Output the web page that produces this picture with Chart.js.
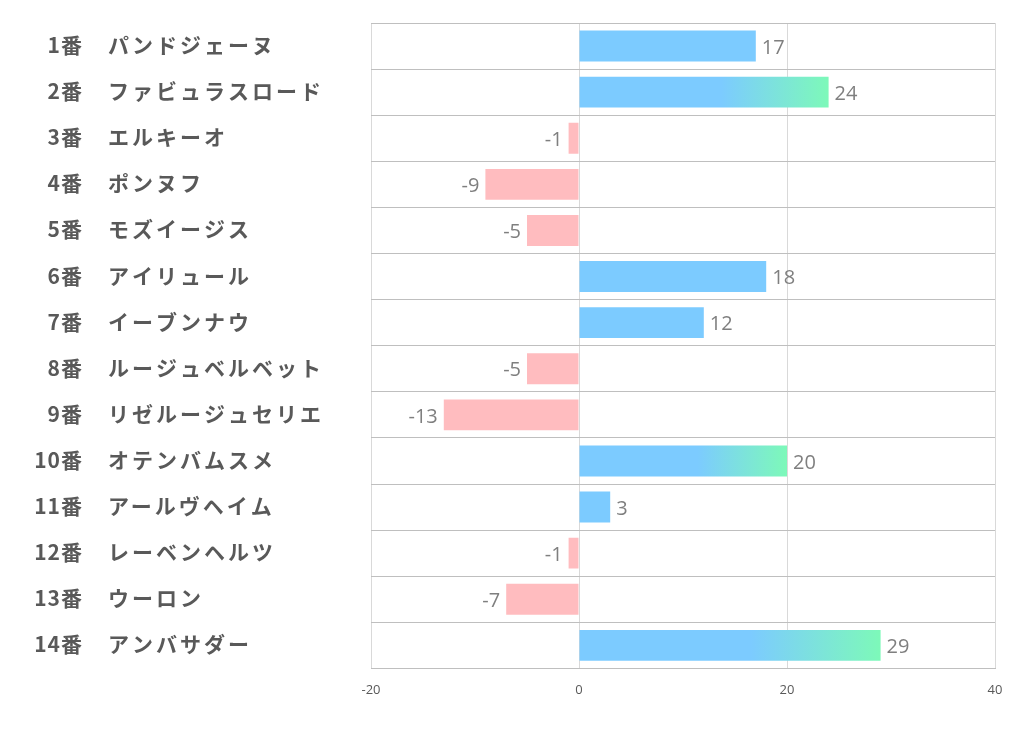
<!DOCTYPE html>
<html>
<head>
<meta charset="utf-8">
<script src="https://cdn.jsdelivr.net/npm/chart.js@4"></script>
<style>
  html, body { margin: 0; padding: 0; background: #fff; }
  #wrap { width: 1022px; height: 730px; }
</style>
</head>
<body>
<div id="wrap"><canvas id="myChart" width="1022" height="730"></canvas></div>
<script>
// data
const horseNumbers = ['1番', '2番', '3番', '4番', '5番', '6番', '7番', '8番', '9番', '10番', '11番', '12番', '13番', '14番'];
const horseNames = ['パンドジェーヌ', 'ファビュラスロード', 'エルキーオ', 'ポンヌフ', 'モズイージス', 'アイリュール', 'イーブンナウ', 'ルージュベルベット', 'リゼルージュセリエ', 'オテンバムスメ', 'アールヴヘイム', 'レーベンヘルツ', 'ウーロン', 'アンバサダー'];
const scores = [17, 24, -1, -9, -5, 18, 12, -5, -13, 20, 3, -1, -7, 29];
const xTicks = [-20, 0, 20, 40];

const BLUE = '#7ccbff';
const GREEN = '#7df9b9';
const PINK = '#ffbcbf';
const LABEL_FONT = '"Noto Sans CJK JP", "Noto Sans", sans-serif';

function barColor(ctx) {
  const v = ctx.raw;
  if (v < 0) return PINK;
  if (v < 20) return BLUE;
  const xs = ctx.chart.scales.x;
  if (!xs || !ctx.chart.chartArea) return BLUE;
  const x0 = xs.getPixelForValue(0);
  const x1 = xs.getPixelForValue(v);
  const g = ctx.chart.ctx.createLinearGradient(x0, 0, x1, 0);
  g.addColorStop(0, BLUE);
  g.addColorStop(0.57, BLUE);
  g.addColorStop(1, GREEN);
  return g;
}

// horse number + name on the left, value next to each bar
const labelPlugin = {
  id: 'labelPlugin',
  afterDraw(chart) {
    const c = chart.ctx;
    const ys = chart.scales.y;
    c.save();
    c.textBaseline = 'middle';
    c.fillStyle = '#595959';
    c.font = 'bold 21px ' + LABEL_FONT;
    horseNames.forEach((name, i) => {
      const y = ys.getPixelForValue(i) - 1;
      c.letterSpacing = '1px';
      c.textAlign = 'right';
      c.fillText(horseNumbers[i], 83, y);
      c.letterSpacing = '3px';
      c.textAlign = 'left';
      c.fillText(name, 108, y);
    });
    c.letterSpacing = '0px';

    const meta = chart.getDatasetMeta(0);
    c.font = '20px "Open Sans", "Noto Sans", sans-serif';
    c.fillStyle = '#7f7f7f';
    meta.data.forEach((bar, i) => {
      const v = scores[i];
      if (v >= 0) {
        c.textAlign = 'left';
        c.fillText(String(v), bar.x + 6, bar.y + 2);
      } else {
        c.textAlign = 'right';
        c.fillText(String(v), bar.x - 6, bar.y + 2);
      }
    });
    c.restore();
  }
};

const chart = new Chart(document.getElementById('myChart').getContext('2d'), {
  type: 'bar',
  data: {
    labels: horseNames,
    datasets: [{
      data: scores,
      backgroundColor: barColor,
      borderWidth: 0,
      categoryPercentage: 1,
      barPercentage: 0.67
    }]
  },
  plugins: [labelPlugin],
  options: {
    indexAxis: 'y',
    responsive: false,
    animation: false,
    layout: { padding: { left: 371, right: 27, top: 23, bottom: 18 } },
    plugins: {
      legend: { display: false },
      tooltip: { enabled: false }
    },
    scales: {
      x: {
        min: -20,
        max: 40,
        afterBuildTicks(scale) {
          scale.ticks = xTicks.map(v => ({ value: v }));
        },
        grid: { color: '#d9d9d9', drawTicks: false },
        border: { display: true, color: '#bfbfbf' },
        ticks: {
          padding: 14,
          color: '#595959',
          font: { size: 13, family: '"Open Sans", "Noto Sans", sans-serif' }
        }
      },
      y: {
        grid: { color: '#bfbfbf', drawTicks: false, offset: true },
        border: { display: false },
        ticks: { display: false }
      }
    }
  }
});
</script>
</body>
</html>
